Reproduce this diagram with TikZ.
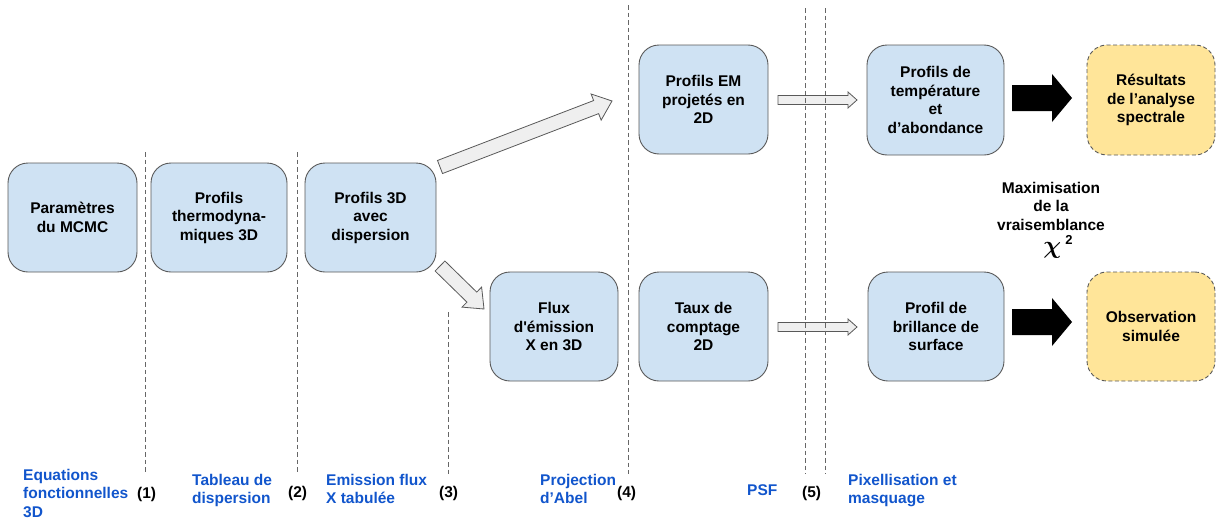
\documentclass[tikz,border=0pt]{standalone}
\usepackage{fontspec}
\setmainfont{Liberation Sans}
\newfontfamily\aposfont{Liberation Sans}[Ligatures=TeXOff]
\usepackage{bm}
\usetikzlibrary{calc}
\definecolor{boxblue}{HTML}{CFE2F3}
\definecolor{boxyellow}{HTML}{FFE599}
\definecolor{labblue}{HTML}{1155CC}
\definecolor{edgegray}{HTML}{595959}
\definecolor{arrfill}{HTML}{EFEFEF}
\definecolor{dashgray}{HTML}{666666}
% #1 style, #2 start, #3 tip, #4 body half width, #5 head half width, #6 head length
\newcommand\blockarr[6]{%
  \coordinate (ba-h) at ($(#3)!#6!(#2)$);
  \path[#1] ($(#2)!#4!90:(#3)$) -- ($(ba-h)!#4!90:(#3)$) -- ($(ba-h)!#5!90:(#3)$) -- (#3)
    -- ($(ba-h)!#5!-90:(#3)$) -- ($(ba-h)!#4!-90:(#3)$) -- ($(#2)!#4!-90:(#3)$) -- cycle;}
\begin{document}
\begin{tikzpicture}[x=1pt,y=-1pt,
  txt/.style={font=\bfseries\fontsize{15.5}{18.5}\selectfont, align=center, inner sep=0pt},
  box/.style={txt, draw=edgegray, line width=0.9pt, fill=boxblue, rounded corners=20pt, minimum height=109pt},
  resbox/.style={box, fill=boxyellow, dash pattern=on 4pt off 2.5pt},
  sep/.style={draw=dashgray, line width=0.9pt, dash pattern=on 4.5pt off 3pt},
  lab/.style={txt, text=labblue, align=left, anchor=north west},
  num/.style={txt, anchor=west},
  grayarr/.style={draw=edgegray, line width=0.8pt, fill=arrfill, line join=miter},
  blackarr/.style={fill=black}
]
\useasboundingbox (0,0) rectangle (1225,525);
% boxes
\node[box, minimum width=129pt] (b1) at (72.5,217.5) {Paramètres\\du MCMC};
\node[box, minimum width=136pt] (b2) at (219,217.5) {Profils\\thermodyna-\\miques 3D};
\node[box, minimum width=131pt] (b3) at (370.5,217.5) {Profils 3D\\avec\\dispersion};
\node[box, minimum width=128pt] (b4) at (554,326.5) {Flux\\d{\aposfont\bfseries '}émission\\X en 3D};
\node[box, minimum width=129pt] (b5) at (703.5,326.5) {Taux de\\comptage\\2D};
\node[box, minimum width=129pt] (b6) at (703.5,99.5) {Profils EM\\projetés en\\2D};
\node[box, minimum width=137pt, minimum height=110pt] (b7) at (935.5,100) {Profils de\\température\\et\\d’abondance};
\node[resbox, minimum width=128pt, minimum height=110pt] (b8) at (1151,100) {Résultats\\de l’analyse\\spectrale};
\node[box, minimum width=136pt] (b9) at (936,326.5) {Profil de\\brillance de\\surface};
\node[resbox, minimum width=128pt] (b10) at (1151,326.5) {Observation\\simulée};
% arrows
\coordinate (a1s) at (440,167); \coordinate (a1e) at (612,101);
\blockarr{grayarr}{a1s}{a1e}{7pt}{14pt}{17pt}
\coordinate (a2s) at (440,266); \coordinate (a2e) at (484,309);
\blockarr{grayarr}{a2s}{a2e}{7pt}{14pt}{17pt}
\coordinate (a3s) at (778,100); \coordinate (a3e) at (857,100);
\blockarr{grayarr}{a3s}{a3e}{4.5pt}{8pt}{9pt}
\coordinate (a4s) at (778,327); \coordinate (a4e) at (857,327);
\blockarr{grayarr}{a4s}{a4e}{4.5pt}{8pt}{9pt}
\coordinate (a5s) at (1012,98); \coordinate (a5e) at (1072,98);
\blockarr{blackarr}{a5s}{a5e}{13pt}{24pt}{20pt}
\coordinate (a6s) at (1012,322); \coordinate (a6e) at (1072,322);
\blockarr{blackarr}{a6s}{a6e}{13pt}{24pt}{20pt}
% separators
\coordinate (s1t) at (145,152); \coordinate (s1b) at (145,474);
\coordinate (s2t) at (297,152); \coordinate (s2b) at (297,474);
\coordinate (s3t) at (448,312); \coordinate (s3b) at (448,474);
\coordinate (s4t) at (628,5);   \coordinate (s4b) at (628,474);
\coordinate (s5t) at (805,8);   \coordinate (s5b) at (805,474);
\coordinate (s6t) at (825,8);   \coordinate (s6b) at (825,474);
\draw[sep] (s1t) -- (s1b);
\draw[sep] (s2t) -- (s2b);
\draw[sep] (s3t) -- (s3b);
\draw[sep] (s4t) -- (s4b);
\draw[sep] (s5t) -- (s5b);
\draw[sep] (s6t) -- (s6b);
% bottom labels
\node[lab] (l1) at (23,469) {Equations\\fonctionnelles\\3D};
\node[lab] (l2) at (192,474) {Tableau de\\dispersion};
\node[lab] (l3) at (326,474) {Emission flux\\X tabulée};
\node[lab] (l4) at (540,474) {Projection\\d’Abel};
\node[lab] (l5) at (747,484) {PSF};
\node[lab] (l6) at (848,474) {Pixellisation et\\masquage};
\node[num] (n1) at (137,494) {(1)};
\node[num] (n2) at (288,493) {(2)};
\node[num] (n3) at (439,493) {(3)};
\node[num] (n4) at (617,493) {(4)};
\node[num] (n5) at (802,493) {(5)};
% likelihood
\node[txt] (mx) at (1051,206) {Maximisation\\de la\\vraisemblance};
\node[inner sep=0pt] (chi) at (1058,247) {{\fontsize{25}{25}\selectfont$\bm{\chi}$}\kern4pt\raisebox{9pt}{\bfseries\fontsize{13}{13}\selectfont 2}};
\end{tikzpicture}
\end{document}
